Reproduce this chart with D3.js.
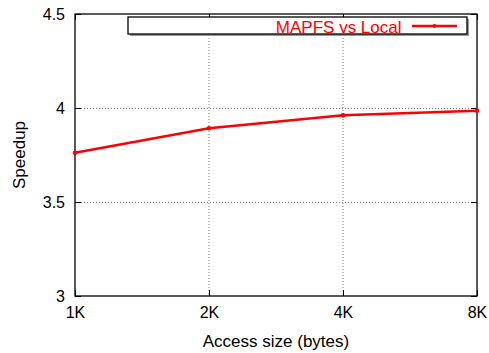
<!DOCTYPE html>
<html><head><meta charset="utf-8">
<script src="https://cdn.jsdelivr.net/npm/d3@7"></script>
<style>body{margin:0;background:#fff}svg text{font-family:"Liberation Sans",Arial,sans-serif}</style>
</head><body><svg id="c" width="489" height="353"></svg>
<script>
const categories = ["1K","2K","4K","8K"];
const speedup = [3.762, 3.892, 3.961, 3.986];
const yTicks = [3, 3.5, 4, 4.5];
const yTickLabels = ["3","3.5","4","4.5"];
const seriesName = "MAPFS vs Local";

const svg = d3.select("#c");
const L=75, R=477, T=14, B=296;
const x = d3.scalePoint().domain(categories).range([L,R]);
const y = d3.scaleLinear().domain([3,4.5]).range([B,T]);

// grid
const g = svg.append("g");
g.selectAll(".gx").data(categories.slice(1,-1)).enter().append("line")
  .attr("x1",d=>x(d)).attr("x2",d=>x(d)).attr("y1",T).attr("y2",B)
  .attr("stroke","#777").attr("stroke-width",1).attr("stroke-dasharray","1,2");
g.selectAll(".gy").data(yTicks.slice(1,-1)).enter().append("line")
  .attr("x1",L).attr("x2",R).attr("y1",d=>y(d)+0.5).attr("y2",d=>y(d)+0.5)
  .attr("stroke","#777").attr("stroke-width",1).attr("stroke-dasharray","1,2");

// axes
const xa = svg.append("g").attr("transform",`translate(0,${B})`)
  .call(d3.axisBottom(x).tickSize(-6).tickPadding(11));
const ya = svg.append("g").attr("transform",`translate(${L},0)`)
  .call(d3.axisLeft(y).tickValues(yTicks).tickFormat((d,i)=>yTickLabels[i]).tickSize(-6).tickPadding(10));
svg.append("g").attr("transform",`translate(0,${T})`)
  .call(d3.axisTop(x).tickSize(-6).tickFormat(""));
svg.append("g").attr("transform",`translate(${R},0)`)
  .call(d3.axisRight(y).tickValues(yTicks).tickSize(-6).tickFormat(""));
svg.selectAll(".domain").remove();
svg.selectAll(".tick line").attr("stroke","#000");
svg.selectAll(".tick text").attr("font-size",16).attr("fill","#000");
xa.selectAll(".tick text").attr("dy","0.71em");
svg.append("rect").attr("x",L).attr("y",T).attr("width",R-L).attr("height",B-T)
  .attr("fill","none").attr("stroke","#000").attr("stroke-width",1.3);

// labels
svg.append("text").attr("x",(L+R)/2).attr("y",347).attr("text-anchor","middle")
  .attr("font-size",17).text("Access size (bytes)");
svg.append("text").attr("transform","translate(25,155) rotate(-90)").attr("text-anchor","middle")
  .attr("font-size",17).text("Speedup");

// line
const line = d3.line().x((d,i)=>x(categories[i])).y(d=>y(d));
svg.append("path").datum(speedup).attr("d",line).attr("fill","none")
  .attr("stroke","#f00").attr("stroke-width",2.5);
svg.selectAll(".pt").data(speedup).enter().append("circle")
  .attr("cx",(d,i)=>x(categories[i])).attr("cy",d=>y(d)).attr("r",2.3).attr("fill","#f00");

// legend
svg.append("rect").attr("x",130).attr("y",19).attr("width",339).attr("height",17).attr("fill","#999");
svg.append("rect").attr("x",128).attr("y",17).attr("width",339).attr("height",17)
  .attr("fill","#fff").attr("stroke","#000").attr("stroke-width",1.3);
svg.append("text").attr("x",401.5).attr("y",32.5).attr("text-anchor","end").attr("font-size",17)
  .attr("fill","#f00").text(seriesName);
svg.append("line").attr("x1",412).attr("x2",457).attr("y1",26).attr("y2",26)
  .attr("stroke","#f00").attr("stroke-width",2.5);
svg.append("circle").attr("cx",434.5).attr("cy",26).attr("r",2).attr("fill","#f00");
</script></body></html>
